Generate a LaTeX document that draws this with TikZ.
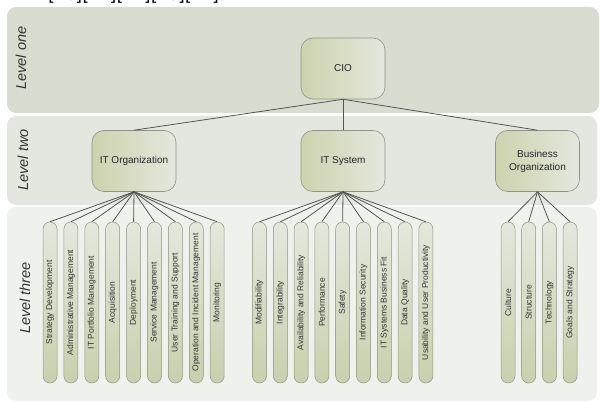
\documentclass[tikz,border=0pt]{standalone}
\usepackage{fontspec}
\setmainfont{Liberation Sans}
\newfontfamily\carlfont{Carlito}
\definecolor{bandA}{HTML}{D8DDCF}
\definecolor{bandB}{HTML}{E3E7DF}
\definecolor{bandC}{HTML}{EFF2EC}
\definecolor{boxL}{HTML}{CDD3AE}
\definecolor{boxR}{HTML}{E4E7DD}
\definecolor{pillT}{HTML}{E4E8DD}
\definecolor{pillB}{HTML}{C8D0AC}
\definecolor{boxline}{HTML}{8E9486}
\definecolor{lineC}{HTML}{555555}
\begin{document}
\begin{tikzpicture}[x=1pt,y=-1pt,
  lvl/.style={font=\fontsize{14.5}{16}\selectfont\itshape, text=black!80, rotate=90, inner sep=0pt},
  box/.style={draw=boxline, line width=0.6pt, rounded corners=12pt, left color=boxL, right color=boxR,
    minimum width=84pt, minimum height=61pt, align=center, inner sep=1pt, text=black!85,
    font=\fontsize{10}{12}\selectfont},
  pill/.style={draw=boxline, line width=0.5pt, rounded corners=7pt, top color=pillT, bottom color=pillB,
    minimum width=14pt, minimum height=161pt, inner sep=0pt, text=black!80,
    font=\fontsize{8.5}{10}\selectfont},
  conn/.style={draw=lineC, line width=0.8pt}]
\useasboundingbox (0,0) rectangle (600,403);
\fill[white] (0,0) rectangle (600,403);
\begin{scope}
\clip (0,0) rectangle (600,403);
\node[anchor=base west, inner sep=0pt, font=\carlfont\fontsize{21}{24}\selectfont] (cite) at (48,1) {[20][21][22][23][24].};
\end{scope}
% bands
\fill[bandA, rounded corners=9pt] (7,7) rectangle (599,113);
\fill[bandB, rounded corners=9pt] (7,116) rectangle (597,205);
\fill[bandC, rounded corners=9pt] (7,207) rectangle (597,401);
% level labels
\node[lvl] (l1) at (21,58) {Level one};
\node[lvl] (l2) at (23,160) {Level two};
\node[lvl] (l3) at (25,298) {Level three};
% boxes
\node[box] (cio) at (343,68.5) {CIO};
\node[box] (itorg) at (134,161) {IT Organization};
\node[box] (itsys) at (343,161) {IT System};
\node[box] (bus) at (537.5,161) {Business\\[1pt]Organization};
\draw[conn] (cio.south) -- (itorg.north);
\draw[conn] (cio.south) -- (itsys.north);
\draw[conn] (cio.south) -- (bus.north);
% IT organization leaves
\foreach \t [count=\i from 0] in {Strategy Development, Administrative Management, IT Portfolio Management, Acquisition, Deployment, Service Management, User Training and Support, Operation and Incident Management, Monitoring}{
  \node[pill] (o\i) at ({50+20.9*\i},302.5) {\rotatebox{90}{\t}};
  \draw[conn] (itorg.south) -- (o\i.north);
}
% IT system leaves
\foreach \t [count=\i from 0] in {Modifiability, Integrability, Availability and Reliability, Performance, Safety, Information Security, IT Systems Business Fit, Data Quality, Usability and User Productivity}{
  \node[pill] (s\i) at ({259.5+20.8*\i},302.5) {\rotatebox{90}{\t}};
  \draw[conn] (itsys.south) -- (s\i.north);
}
% business organization leaves
\foreach \t [count=\i from 0] in {Culture, Structure, Technology, Goals and Strategy}{
  \node[pill] (b\i) at ({508+20.7*\i},302.5) {\rotatebox{90}{\t}};
  \draw[conn] (bus.south) -- (b\i.north);
}
\end{tikzpicture}
\end{document}
